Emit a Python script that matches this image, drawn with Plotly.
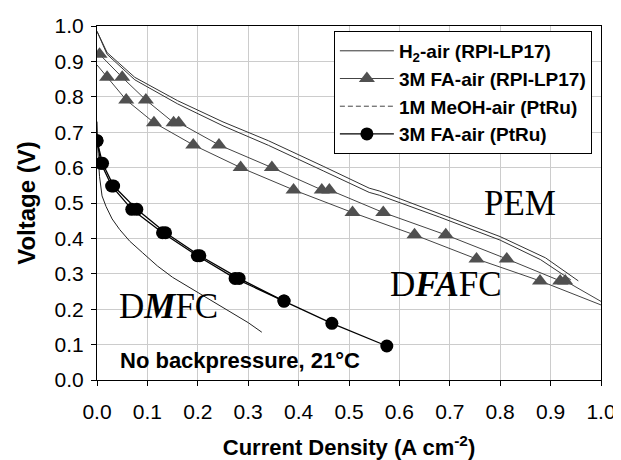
import plotly.graph_objects as go

# ---- data ----
h2_up_x = [0.0, 0.02, 0.075, 0.16, 0.25, 0.34, 0.45, 0.54, 0.56, 0.68, 0.80, 0.89, 0.955]
h2_up_y = [0.985, 0.925, 0.855, 0.789, 0.729, 0.676, 0.603, 0.542, 0.534, 0.47, 0.405, 0.345, 0.28]
h2_lo_x = [0.0, 0.02, 0.075, 0.16, 0.25, 0.34, 0.45, 0.54, 0.56, 0.68, 0.80, 0.88, 0.94]
h2_lo_y = [0.985, 0.92, 0.848, 0.78, 0.718, 0.663, 0.59, 0.53, 0.522, 0.46, 0.395, 0.34, 0.283]

fa_lo_start = (0.0, 0.89)
fa_lo_end = (1.0, 0.212)
fa_lo_tri_x = [0.02, 0.058, 0.113, 0.191, 0.285, 0.39, 0.507, 0.63, 0.753, 0.879]
fa_lo_tri_y = [0.855, 0.791, 0.727, 0.664, 0.6, 0.537, 0.473, 0.41, 0.342, 0.28]

fa_up_end = (1.0, 0.222)
fa_up_tri_x = [0.005, 0.05, 0.097, 0.152, 0.162, 0.242, 0.347, 0.446, 0.461, 0.568, 0.692, 0.813, 0.919, 0.929]
fa_up_tri_y = [0.92, 0.855, 0.791, 0.727, 0.727, 0.664, 0.6, 0.537, 0.537, 0.473, 0.41, 0.342, 0.28, 0.28]

meoh_x = [0.0, 0.002, 0.005, 0.01, 0.018, 0.03, 0.045, 0.065, 0.09, 0.12, 0.15, 0.2, 0.25, 0.3, 0.327]
meoh_y = [0.73, 0.64, 0.575, 0.52, 0.49, 0.455, 0.425, 0.392, 0.36, 0.322, 0.29, 0.248, 0.205, 0.162, 0.135]

ptru_a_x = [0.0, 0.008, 0.029, 0.069, 0.13, 0.199, 0.274, 0.371, 0.466, 0.575]
ptru_a_y = [0.676, 0.612, 0.548, 0.482, 0.416, 0.351, 0.287, 0.223, 0.16, 0.096]
ptru_b_x = [0.0, 0.011, 0.033, 0.079, 0.136, 0.204, 0.282, 0.371]
ptru_b_y = [0.676, 0.612, 0.548, 0.482, 0.416, 0.351, 0.287, 0.223]

legend_names = ["H<sub>2</sub>-air (RPI-LP17)", "3M FA-air (RPI-LP17)",
                "1M MeOH-air (PtRu)", "3M FA-air (PtRu)"]

x_ticks = [round(i * 0.1, 1) for i in range(11)]
y_ticks = [round(i * 0.1, 1) for i in range(11)]

SANS = "Liberation Sans, Arial, sans-serif"
SERIF = "Liberation Serif, Times New Roman, serif"

# ---- figure ----
fig = go.Figure()

# H2-air lines
for xs, ys in [(h2_up_x, h2_up_y), (h2_lo_x, h2_lo_y)]:
    fig.add_trace(go.Scatter(x=xs, y=ys, mode="lines", line=dict(color="#333333", width=1),
                             showlegend=False, hoverinfo="skip"))

# FA-air (RPI) lines + triangles
fa_lo_line_x = [fa_lo_start[0]] + fa_lo_tri_x + [fa_lo_end[0]]
fa_lo_line_y = [fa_lo_start[1]] + fa_lo_tri_y + [fa_lo_end[1]]
fa_up_line_x = fa_up_tri_x + [fa_up_end[0]]
fa_up_line_y = fa_up_tri_y + [fa_up_end[1]]
for xs, ys in [(fa_lo_line_x, fa_lo_line_y), (fa_up_line_x, fa_up_line_y)]:
    fig.add_trace(go.Scatter(x=xs, y=ys, mode="lines", line=dict(color="#444444", width=1),
                             showlegend=False, hoverinfo="skip"))
for xs, ys in [(fa_lo_tri_x, fa_lo_tri_y), (fa_up_tri_x, fa_up_tri_y)]:
    fig.add_trace(go.Scatter(x=xs, y=ys, mode="markers",
                             marker=dict(symbol="triangle-up", size=14, color="#505050"),
                             showlegend=False))

# MeOH
fig.add_trace(go.Scatter(x=meoh_x, y=meoh_y, mode="lines", line=dict(color="#222222", width=1),
                         showlegend=False))

# FA PtRu
for xs, ys in [(ptru_b_x, ptru_b_y), (ptru_a_x, ptru_a_y)]:
    fig.add_trace(go.Scatter(x=xs, y=ys, mode="lines+markers", line=dict(color="black", width=1.3),
                             marker=dict(symbol="circle", size=13, color="black"),
                             showlegend=False))

# legend entries
fig.add_trace(go.Scatter(x=[None], y=[None], mode="lines", name=f"<b>{legend_names[0]}</b>",
                         line=dict(color="#333333", width=1)))
fig.add_trace(go.Scatter(x=[None], y=[None], mode="lines+markers", name=f"<b>{legend_names[1]}</b>",
                         line=dict(color="#444444", width=1),
                         marker=dict(symbol="triangle-up", size=14, color="#505050")))
fig.add_trace(go.Scatter(x=[None], y=[None], mode="lines", name=f"<b>{legend_names[2]}</b>",
                         line=dict(color="#444444", width=1, dash="5px,3px")))
fig.add_trace(go.Scatter(x=[None], y=[None], mode="lines+markers", name=f"<b>{legend_names[3]}</b>",
                         line=dict(color="black", width=1.3),
                         marker=dict(symbol="circle", size=13, color="black")))

fig.add_annotation(x=0.839, y=0.5, xref="x", yref="y", text="PEM", showarrow=False,
                   font=dict(family=SERIF, size=35, color="black"))
fig.add_annotation(x=0.692, y=0.271, xref="x", yref="y", text="D<b><i>FA</i></b>FC", showarrow=False,
                   font=dict(family=SERIF, size=35, color="black"))
fig.add_annotation(x=0.141, y=0.207, xref="x", yref="y", text="D<b><i>M</i></b>FC", showarrow=False,
                   font=dict(family=SERIF, size=35, color="black"))
fig.add_annotation(x=0.042, y=0.056, xref="x", yref="y", text="<b>No backpressure, 21°C</b>",
                   showarrow=False, xanchor="left",
                   font=dict(family=SANS, size=22, color="black"))

axis_common = dict(showgrid=True, gridcolor="#cccccc", gridwidth=1, showline=True,
                   linecolor="black", linewidth=1, mirror=True, ticks="outside", ticklen=5,
                   tickcolor="black", zeroline=False,
                   tickfont=dict(family=SANS, size=21, color="black"))

fig.update_xaxes(range=[0, 1.0], tickvals=x_ticks, ticktext=[f"{v:.1f}" for v in x_ticks],
                 title=dict(text="<b>Current Density (A cm<sup>-2</sup>)</b>", standoff=21,
                            font=dict(family=SANS, size=22, color="black")),
                 ticklabelstandoff=8, **axis_common)
fig.update_yaxes(range=[0, 1.0], tickvals=y_ticks, ticktext=[f"{v:.1f}" for v in y_ticks],
                 title=dict(text="<b>Voltage (V)</b>", standoff=12,
                            font=dict(family=SANS, size=24, color="black")),
                 ticklabelstandoff=3, **axis_common)

# page body has an 8px margin, so the figure is sized/offset to land on the same pixels
fig.update_layout(
    width=613, height=452,
    margin=dict(l=89, r=20, t=18, b=80, autoexpand=False),
    plot_bgcolor="white", paper_bgcolor="white",
    legend=dict(x=0.47, y=0.986, xanchor="left", yanchor="top",
                bgcolor="white", bordercolor="black", borderwidth=1,
                font=dict(family=SANS, size=19, color="black"),
                tracegroupgap=0, itemwidth=54),
    showlegend=True,
)

fig.write_html("out.html")
